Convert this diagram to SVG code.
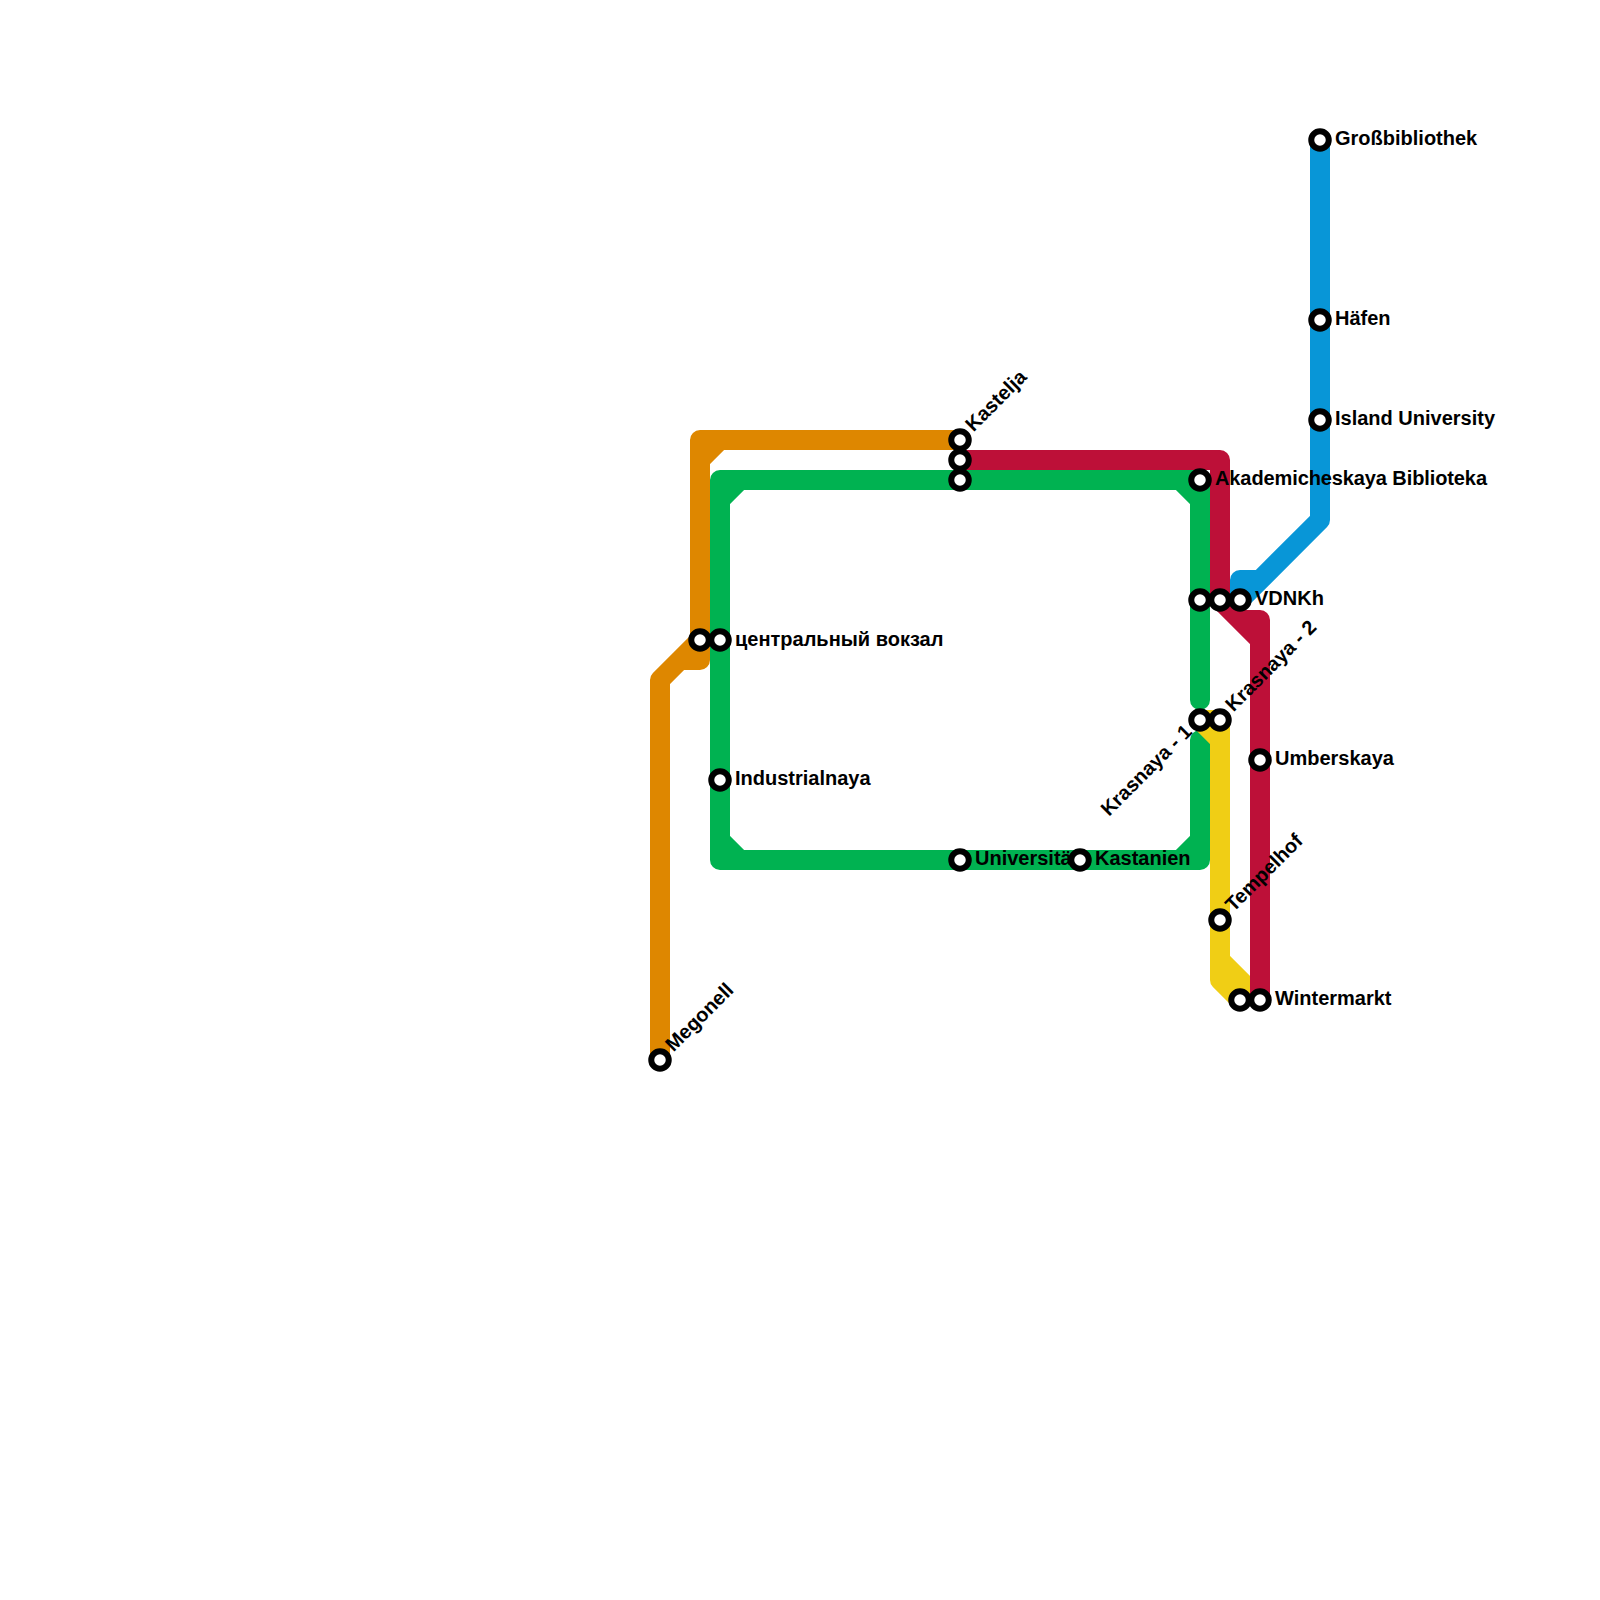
<svg xmlns="http://www.w3.org/2000/svg" width="1600" height="1600" viewBox="0 0 1600 1600">
<style>
.l{fill:none;stroke-width:20;stroke-linejoin:round;stroke-linecap:round}
.o{stroke:#de8700}.g{stroke:#00b251}.r{stroke:#bd1038}.y{stroke:#f0ce15}.b{stroke:#0896d7}
.s{fill:#fff;stroke:#000;stroke-width:6}
text{font-family:"Liberation Sans",Arial,sans-serif;font-weight:700;font-size:20px;fill:#000}
</style>
<rect width="1600" height="1600" fill="#fff"/>
<g id="connectors">
<path class="l o" d="M660,1060V680L700,640V440H960M680,660H700V640M700,460L720,440"/>
<path class="l g" d="M960,480H720V860H1200V740M1200,700V480H960M720,500L740,480M720,840L740,860M1180,480L1200,500M1180,860L1200,840"/>
<path class="l b" d="M1320,140V520L1240,600V580H1260"/>
<path class="l y" d="M1200,720H1220V980L1240,1000M1200,720L1220,740M1220,960L1245,985"/>
<path class="l r" d="M960,460H1220V600L1260,640V1000M1240,620H1260V640"/>
</g>
<g id="n-megonell"><circle class="s" cx="660" cy="1060" r="8.75"/><text transform="translate(673.5,1052.5) rotate(-45)">Megonell</text></g>
<g id="n-hub-w"><circle class="s" cx="700" cy="640" r="8.75"/></g>
<g id="n-central"><circle class="s" cx="720" cy="640" r="8.75"/><text x="735" y="645.5">центральный вокзал</text></g>
<g id="n-industrial"><circle class="s" cx="720" cy="780" r="8.75"/><text x="735" y="785">Industrialnaya</text></g>
<g id="n-kastelja"><circle class="s" cx="960" cy="440" r="8.75"/><text transform="translate(973.5,432.5) rotate(-45)">Kastelja</text></g>
<g id="n-hub-n1"><circle class="s" cx="960" cy="460" r="8.75"/></g>
<g id="n-hub-n2"><circle class="s" cx="960" cy="480" r="8.75"/></g>
<g id="n-universitat"><text x="975" y="865">Universität</text><circle class="s" cx="960" cy="860" r="8.75"/></g>
<g id="n-kastanien"><circle class="s" cx="1080" cy="860" r="8.75"/><text x="1095" y="865">Kastanien</text></g>
<g id="n-akad"><circle class="s" cx="1200" cy="480" r="8.75"/><text x="1215" y="485" textLength="272">Akademicheskaya Biblioteka</text></g>
<g id="n-vdnkh-1"><circle class="s" cx="1200" cy="600" r="8.75"/></g>
<g id="n-vdnkh-2"><circle class="s" cx="1220" cy="600" r="8.75"/></g>
<g id="n-vdnkh"><circle class="s" cx="1240" cy="600" r="8.75"/><text x="1255" y="605">VDNKh</text></g>
<g id="n-krasnaya1"><circle class="s" cx="1200" cy="720" r="8.75"/><text text-anchor="end" transform="translate(1193,733) rotate(-45)">Krasnaya - 1</text></g>
<g id="n-krasnaya2"><circle class="s" cx="1220" cy="720" r="8.75"/><text transform="translate(1233.5,712.5) rotate(-45)">Krasnaya - 2</text></g>
<g id="n-umberskaya"><circle class="s" cx="1260" cy="760" r="8.75"/><text x="1275" y="765">Umberskaya</text></g>
<g id="n-tempelhof"><circle class="s" cx="1220" cy="920" r="8.75"/><text transform="translate(1233.5,912.5) rotate(-45)">Tempelhof</text></g>
<g id="n-winter-1"><circle class="s" cx="1240" cy="1000" r="8.75"/></g>
<g id="n-wintermarkt"><circle class="s" cx="1260" cy="1000" r="8.75"/><text x="1275" y="1005">Wintermarkt</text></g>
<g id="n-gross"><circle class="s" cx="1320" cy="140" r="8.75"/><text x="1335" y="145">Großbibliothek</text></g>
<g id="n-hafen"><circle class="s" cx="1320" cy="320" r="8.75"/><text x="1335" y="325">Häfen</text></g>
<g id="n-island"><circle class="s" cx="1320" cy="420" r="8.75"/><text x="1335" y="425">Island University</text></g>
</svg>
